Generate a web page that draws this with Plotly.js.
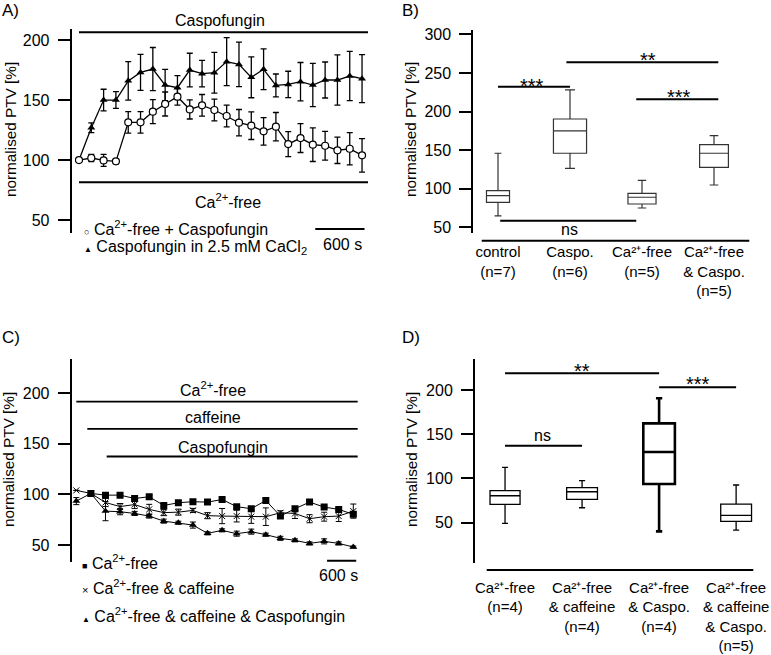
<!DOCTYPE html>
<html>
<head>
<meta charset="utf-8">
<script src="https://cdn.plot.ly/plotly-3.0.1.min.js"></script>
<style>
  html, body { margin: 0; padding: 0; background: #fff; }
  #fig { width: 771px; height: 655px; }
</style>
</head>
<body>
<div id="fig"></div>
<script>
// ---- Panel A: PTV time course (s) ----
const timeA = [0, 150, 300, 450, 600, 750, 900, 1050, 1200, 1350, 1500, 1650,
               1800, 1950, 2100, 2250, 2400, 2550, 2700, 2850, 3000, 3150, 3300, 3450];
const caFreeCaspo = [100, 101.7, 99.7, 98.9, 131.4, 131.4, 140.3, 146.7, 152.8, 142.2, 145.6, 141.7,
                     136.7, 131.1, 128.6, 123.9, 127.8, 113.3, 118.3, 112.8, 111.9, 108.1, 109.4, 103.9];
const caFreeCaspoErr = [0, 3, 5, 2, 9, 9, 10, 10, 7, 8, 9, 9,
                        9, 11, 11.5, 11.5, 11.8, 10.4, 12, 14, 12, 11, 13.5, 14];
const caspoCaCl2 = [100, 126.9, 150, 150, 166, 173, 175.8, 162.5, 160.3, 175, 172, 172.8,
                    182, 179.7, 168.9, 175.6, 162.2, 163, 165.3, 162.5, 166.7, 166.7, 170, 167.8];
const caspoCaCl2Err = [0, 4, 9, 7, 16, 15, 18, 13, 10, 14, 11, 17,
                       20, 18.5, 17, 17, 9.5, 11, 16, 18, 15, 21, 20.5, 20];

// ---- Panel B: box statistics ----
const catsB = ['control', 'Caspo.', 'Ca-free', 'Ca-free & Caspo.'];
const labelsB = ['control<br>(n=7)', 'Caspo.<br>(n=6)', 'Ca²⁺-free<br>(n=5)',
                 'Ca²⁺-free<br>& Caspo.<br>(n=5)'];
const lowB = [64.7, 126.4, 75, 104.8];
const q1B = [82.4, 145.9, 80.2, 127.7];
const medB = [91, 174.8, 88.9, 145.9];
const q3B = [97.5, 190.3, 94, 157];
const highB = [145.9, 227.9, 110.9, 168.7];

// ---- Panel C: time course (s) ----
const timeC = [0, 300, 600, 900, 1200, 1500, 1800, 2100, 2400, 2700,
               3000, 3300, 3600, 3900, 4200, 4500, 4800, 5100, 5400, 5700];
const caFree = [null, 101, 99.3, 99.3, 96, 97.7, 89.1, 91.8, 92.8, 92.4,
                95, 87.9, 85.9, 94, 78.6, 85.9, 92.4, 87.5, 85.2, 80.3];
const caFreeErr = [0, 1, 1.5, 1.5, 1.5, 1.5, 1.5, 1.5, 1.5, 1.5,
                   1.5, 1.5, 1.5, 1.5, 1.5, 1.5, 1.5, 1.5, 1.5, 1.5];
const caFreeCaff = [104, 101, 92, 88, 90, 85.2, 82, 82.5, 84.2, 79,
                    78.6, 78.6, 78, 78, 81.9, 81.2, 76, 78, 78.6, 83.5];
const caFreeCaffErr = [0, 1, 4, 3, 4, 5, 3, 3, 2, 3,
                       7.5, 5.8, 6.6, 8.7, 2, 5, 4, 4.4, 5.4, 7];
const caFreeCaffCaspo = [93.4, 101, 83.5, 82.9, 81.2, 78.6, 73.6, 72, 69.7, 61.5,
                         64.5, 61.2, 63.2, 60.2, 56.6, 54.6, 51.6, 53.6, 51.6, 48];
const caFreeCaffCaspoErr = [3.5, 1, 9.5, 3, 2, 2, 2, 1.5, 3, 1.5,
                            1.5, 2.5, 2.5, 1.5, 2, 1.5, 1.5, 2.5, 1.5, 1];

// ---- Panel D: box statistics ----
const catsD = ['Ca-free', 'Ca-free & caffeine', 'Ca-free & Caspo.', 'Ca-free & caffeine & Caspo.'];
const labelsD = ['Ca²⁺-free<br>(n=4)', 'Ca²⁺-free<br>& caffeine<br>(n=4)',
                 'Ca²⁺-free<br>& Caspo.<br>(n=4)',
                 'Ca²⁺-free<br>& caffeine<br>& Caspo.<br>(n=5)'];
const lowD = [49.2, 66.9, 40.2, 41.7];
const q1D = [70.7, 76.4, 93.7, 51.5];
const medD = [80.5, 85, 129.9, 58.3];
const q3D = [86.2, 89.6, 162.3, 71.1];
const highD = [112.6, 97.5, 190.6, 92.6];

// styles
const boxWidthB = [0.32, 0.46, 0.39, 0.40];
const boxWidthD = [0.39, 0.4, 0.41, 0.4];
const boxLineD = [1.3, 1.3, 2.6, 1.3];

const W = 771, H = 655;
const px = x => x / W;
const py = y => 1 - y / H;
const FONT = 'Liberation Sans, Arial, sans-serif';

function lineTrace(x, y, err, ax, marker, lw) {
    return {
        x: x, y: y, xaxis: ax[0], yaxis: ax[1],
        mode: 'lines+markers', type: 'scatter',
        line: { color: 'black', width: lw },
        marker: marker,
        error_y: { type: 'data', array: err, visible: true, color: 'black', thickness: lw, width: 3 },
        hoverinfo: 'skip', showlegend: false
    };
}

function boxTraces(cats, low, q1, med, q3, high, ax, widths, lws, color, ww) {
    return cats.map((c, i) => ({
        type: 'box', x: [c], q1: [q1[i]], median: [med[i]], q3: [q3[i]],
        lowerfence: [low[i]], upperfence: [high[i]],
        xaxis: ax[0], yaxis: ax[1],
        width: widths[i], whiskerwidth: ww,
        fillcolor: 'white', line: { color: color, width: lws[i] },
        boxpoints: false, hoverinfo: 'skip', showlegend: false
    }));
}

const traces = [
    lineTrace(timeA, caspoCaCl2, caspoCaCl2Err, ['x', 'y'],
        { symbol: 'triangle-up', size: 7, color: 'black' }, 1.3),
    lineTrace(timeA, caFreeCaspo, caFreeCaspoErr, ['x', 'y'],
        { symbol: 'circle', size: 7, color: 'white', line: { color: 'black', width: 1.2 } }, 1.3),
    lineTrace(timeC, caFreeCaffCaspo, caFreeCaffCaspoErr, ['x3', 'y3'],
        { symbol: 'triangle-up', size: 7, color: 'black' }, 1),
    lineTrace(timeC, caFreeCaff, caFreeCaffErr, ['x3', 'y3'],
        { symbol: 'x-thin-open', size: 6, color: 'black', line: { color: 'black', width: 1 } }, 1),
    lineTrace(timeC, caFree, caFreeErr, ['x3', 'y3'],
        { symbol: 'square', size: 7, color: 'black' }, 1),
    ...boxTraces(catsB, lowB, q1B, medB, q3B, highB, ['x2', 'y2'], boxWidthB, [1.2, 1.2, 1.2, 1.2], '#333', 0.3),
    ...boxTraces(catsD, lowD, q1D, medD, q3D, highD, ['x4', 'y4'], boxWidthD, boxLineD, 'black', 0.2)
];

const yStyle = {
    showline: true, linewidth: 2, linecolor: 'black',
    ticks: 'outside', ticklen: 12, tickwidth: 2, tickcolor: 'black',
    ticklabelstandoff: 5,
    showgrid: false, zeroline: false, fixedrange: true,
    tickfont: { size: 16, color: 'black' }
};
const xCatStyle = {
    type: 'category', showline: false, ticks: '', showgrid: false, zeroline: false,
    tickfont: { size: 15, color: 'black' }, tickangle: 0
};

const layout = {
    width: W, height: H,
    margin: { l: 0, r: 0, t: 0, b: 0 },
    paper_bgcolor: 'white', plot_bgcolor: 'rgba(0,0,0,0)',
    font: { family: FONT, size: 16, color: 'black' },
    showlegend: false,
    xaxis: { domain: [px(71.7), px(370)], range: [-89, 3547], visible: false, anchor: 'y' },
    yaxis: Object.assign({ domain: [py(233), py(29)], range: [39.2, 209.2], anchor: 'x',
                           tickvals: [50, 100, 150, 200] }, yStyle),
    xaxis2: Object.assign({ domain: [px(473.3), px(750)], range: [-0.343, 3.5], anchor: 'y2',
                            tickmode: 'array', tickvals: catsB, ticktext: labelsB,
                            categoryarray: catsB, ticklabelstandoff: 8 }, xCatStyle),
    yaxis2: Object.assign({ domain: [py(233), py(30)], range: [42.6, 305.6], anchor: 'x2',
                            tickvals: [50, 100, 150, 200, 250, 300] }, yStyle),
    xaxis3: { domain: [px(71.7), px(362)], range: [-95, 5879], visible: false, anchor: 'y3' },
    yaxis3: Object.assign({ domain: [py(562.3), py(359.3)], range: [32.9, 233.6], anchor: 'x3',
                            tickvals: [50, 100, 150, 200] }, yStyle),
    xaxis4: Object.assign({ domain: [px(475), px(760)], range: [-0.39, 3.31], anchor: 'y4',
                            tickmode: 'array', tickvals: catsD, ticktext: labelsD,
                            categoryarray: catsD, ticklabelstandoff: 14 }, xCatStyle),
    yaxis4: Object.assign({ domain: [py(562.7), py(359.3)], range: [4.8, 234.7], anchor: 'x4',
                            tickvals: [50, 100, 150, 200] }, yStyle),
    shapes: [],
    annotations: []
};

function hline(xref, yref, x0, x1, y, w) {
    layout.shapes.push({ type: 'line', xref: xref, yref: yref, x0: x0, x1: x1, y0: y, y1: y,
                         line: { color: 'black', width: w } });
}
function label(text, x, y, opts) {
    layout.annotations.push(Object.assign({ text: text, x: px(x), y: py(y), xref: 'paper', yref: 'paper',
        showarrow: false, xanchor: 'center', yanchor: 'middle', font: { size: 16, color: 'black' } }, opts || {}));
}
function dataLabel(text, xref, yref, x, y, size) {
    layout.annotations.push({ text: text, x: x, y: y, xref: xref, yref: yref, showarrow: false,
        xanchor: 'center', yanchor: 'middle', font: { size: size, color: 'black' } });
}

// panel A condition bars + scale bar
hline('x', 'y', 0, 3523, 206.4, 2);
hline('x', 'y', 0, 3523, 81.4, 2);
hline('x', 'y', 2880, 3480, 42.5, 2);
// panel C condition bars + scale bar
hline('x3', 'y3', 0, 5790, 191.8, 1.8);
hline('x3', 'y3', 226, 5790, 164.8, 1.8);
hline('x3', 'y3', 625, 5790, 137.5, 1.8);
hline('x3', 'y3', 5160, 5760, 34.5, 2);
// panel B significance bars + baseline
hline('x2', 'y2', 0, 1, 232.2, 2);
hline('x2', 'y2', 0.95, 3.06, 263.7, 2);
hline('x2', 'y2', 1.92, 3.06, 215.8, 2);
hline('x2', 'y2', 0.03, 1.92, 58.6, 2);
hline('paper', 'paper', px(481.7), px(749.3), py(240.7), 2);
// panel D significance bars + baseline
hline('x4', 'y4', 0, 2, 218.8, 2);
hline('x4', 'y4', 2, 3, 203, 2);
hline('x4', 'y4', 0, 1, 137, 2);
hline('paper', 'paper', px(486.7), px(753.3), py(570), 2);

// significance marks
dataLabel('***', 'x2', 'y2', 0.47, 232.4, 20);
dataLabel('**', 'x2', 'y2', 2.08, 267, 20);
dataLabel('***', 'x2', 'y2', 2.51, 218.6, 20);
dataLabel('ns', 'x2', 'y2', 0.99, 46.5, 16);
dataLabel('**', 'x4', 'y4', 1.0, 221.7, 20);
dataLabel('***', 'x4', 'y4', 2.51, 206.6, 20);
dataLabel('ns', 'x4', 'y4', 0.49, 149.1, 16);

// panel letters
label('A)', 0, 10, { xanchor: 'left', font: { size: 17, color: 'black' } });
label('B)', 400, 10, { xanchor: 'left', font: { size: 17, color: 'black' } });
label('C)', 0, 337, { xanchor: 'left', font: { size: 17, color: 'black' } });
label('D)', 400, 337, { xanchor: 'left', font: { size: 17, color: 'black' } });

// y titles
const yTitle = 'normalised PTV [%]';
const titleFont = { size: 15.3, color: 'black' };
label(yTitle, 10, 130, { textangle: -90, font: titleFont });
label(yTitle, 410, 130, { textangle: -90, font: titleFont });
label(yTitle, 9, 460, { textangle: -90, font: titleFont });
label(yTitle, 412, 460, { textangle: -90, font: titleFont });

// panel A texts
label('Caspofungin', 220, 20);
label('Ca<sup>2+</sup>-free', 228, 201);
label('<span style="font-size:9px">○</span> Ca<sup>2+</sup>-free + Caspofungin', 82, 228, { xanchor: 'left' });
label('<span style="font-size:8px">▲</span> Caspofungin in 2.5 mM CaCl<sub>2</sub>', 82, 247, { xanchor: 'left' });
label('600 s', 342, 244);

// panel C texts
label('Ca<sup>2+</sup>-free', 213, 389);
label('caffeine', 213, 417);
label('Caspofungin', 223, 447);
label('<span style="font-size:9px">■</span> Ca<sup>2+</sup>-free', 80, 562, { xanchor: 'left' });
label('<span style="font-size:11px">×</span> Ca<sup>2+</sup>-free &amp; caffeine', 80, 587, { xanchor: 'left' });
label('<span style="font-size:8px">▲</span> Ca<sup>2+</sup>-free &amp; caffeine &amp; Caspofungin', 80, 615, { xanchor: 'left' });
label('600 s', 338, 575);

Plotly.newPlot('fig', traces, layout, { displayModeBar: false, staticPlot: true });
</script>
</body>
</html>
